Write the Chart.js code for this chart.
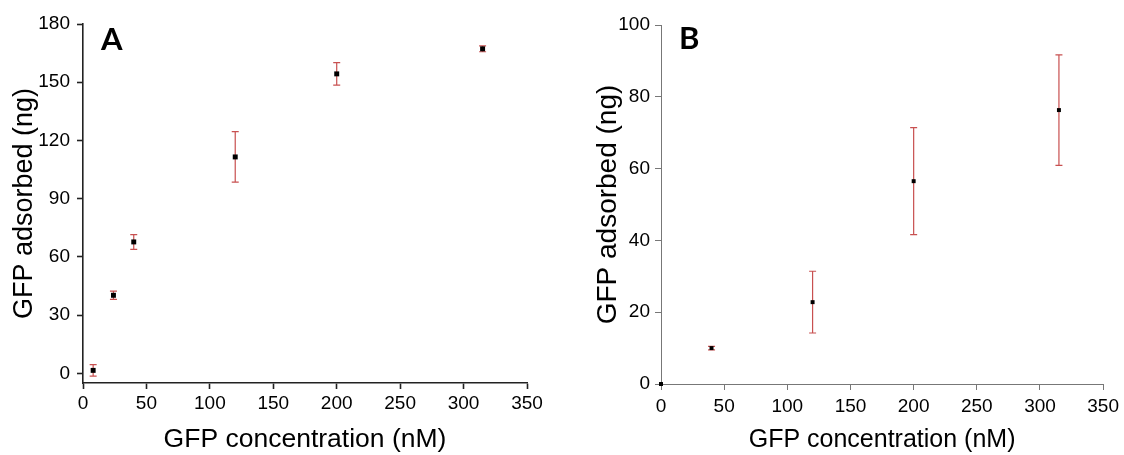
<!DOCTYPE html>
<html><head><meta charset="utf-8">
<script src="https://cdn.jsdelivr.net/npm/chart.js@4.4.1/dist/chart.umd.min.js"></script>
<style>
html,body{margin:0;padding:0;background:#fff;width:1124px;height:455px;overflow:hidden;}
.panel{position:absolute;top:0;width:562px;height:455px;}
.lbl{position:absolute;font-family:Lato,'Open Sans',sans-serif;font-weight:bold;font-size:31px;line-height:31px;color:#000;}
</style></head><body>
<div class="panel" style="left:0"><canvas id="cA" width="562" height="455"></canvas></div>
<div class="panel" style="left:562px"><canvas id="cB" width="562" height="455"></canvas></div>
<div class="lbl" style="left:101px;top:23px">A</div>
<div class="lbl" style="left:679px;top:22px">B</div>
<script>
// ---- data ----
const concA = [8, 24, 40, 120, 200, 315];
const adsA  = [1.5, 40.2, 67.7, 111.5, 154.3, 167.2];
const errA  = [3, 2.1, 3.8, 13, 5.8, 1.5];
const concB = [0, 40, 120, 200, 315];
const adsB  = [0, 10, 22.8, 56.5, 76.3];
const errB  = [0, 0.5, 8.6, 14.9, 15.4];
const xTicks  = [0, 50, 100, 150, 200, 250, 300, 350];
const yTicksA = [0, 30, 60, 90, 120, 150, 180];
const yTicksB = [0, 20, 40, 60, 80, 100];
const xTitle = 'GFP concentration (nM)';
const yTitle = 'GFP adsorbed (ng)';

const errorBars = {
  id: 'errorBars',
  beforeDatasetsDraw(chart, args, opts) {
    const ctx = chart.ctx, xs = chart.scales.x, ys = chart.scales.y;
    chart.data.datasets.forEach(ds => {
      if (!ds.errors) return;
      ctx.save();
      ctx.strokeStyle = opts.color;
      ctx.lineWidth = opts.width;
      ds.data.forEach((p, i) => {
        const e = ds.errors[i];
        if (!e) return;
        const x = xs.getPixelForValue(p.x);
        const y1 = ys.getPixelForValue(p.y + e), y2 = ys.getPixelForValue(p.y - e);
        ctx.beginPath();
        ctx.moveTo(x, y1); ctx.lineTo(x, y2);
        ctx.moveTo(x - opts.cap, y1); ctx.lineTo(x + opts.cap, y1);
        ctx.moveTo(x - opts.cap, y2); ctx.lineTo(x + opts.cap, y2);
        ctx.stroke();
      });
      ctx.restore();
    });
  }
};

function build(id, xs, ys, es, yTicks, st) {
  const font = 'Liberation Sans, Arial, sans-serif';
  return new Chart(document.getElementById(id), {
    type: 'scatter',
    data: { datasets: [{
      data: xs.map((x, i) => ({ x: x, y: ys[i] })),
      errors: es,
      pointStyle: 'rect', pointRadius: st.pr, pointHoverRadius: st.pr,
      backgroundColor: '#000', borderColor: '#000', borderWidth: 0,
      clip: false
    }]},
    plugins: [errorBars],
    options: {
      responsive: false, animation: false, devicePixelRatio: 1,
      layout: { padding: { top: st.padTop, right: st.padRight, left: 0, bottom: 0 } },
      plugins: { legend: { display: false }, tooltip: { enabled: false },
        errorBars: { color: 'rgb(200,80,80)', width: 1.2, cap: 3.5 } },
      scales: {
        x: {
          type: 'linear', min: xTicks[0], max: xTicks[xTicks.length - 1],
          afterBuildTicks: s => { s.ticks = xTicks.map(v => ({ value: v })); },
          afterFit: s => { s.height = st.xH; },
          ticks: { font: { family: font, size: 19 }, color: '#000', padding: st.xPad, maxRotation: 0, autoSkip: false },
          grid: { display: true, drawOnChartArea: false, drawTicks: true, tickLength: st.tl, tickColor: st.axisColor, tickWidth: st.aw },
          border: { display: true, color: st.axisColor, width: st.aw },
          title: { display: true, text: xTitle, color: '#000', font: { family: font, size: st.xtSize, lineHeight: 1 }, padding: { top: 0, bottom: 2 } }
        },
        y: {
          type: 'linear', min: st.ymin, max: yTicks[yTicks.length - 1],
          afterBuildTicks: s => { s.ticks = yTicks.map(v => ({ value: v })); },
          afterFit: s => { s.width = st.yW; },
          ticks: { font: { family: font, size: 19 }, color: '#000', padding: st.yPad, autoSkip: false },
          grid: { display: true, drawOnChartArea: false, drawTicks: true, tickLength: st.tl, tickColor: st.axisColor, tickWidth: st.aw },
          border: { display: true, color: st.axisColor, width: st.aw },
          title: { display: true, text: yTitle, color: '#000', font: { family: font, size: st.ytSize, lineHeight: 1 }, padding: { top: st.ytPad, bottom: 0 } }
        }
      }
    }
  });
}

build('cA', concA, adsA, errA, yTicksA, {
  pr: 3.5, padTop: 24, padRight: 35, xH: 72, yW: 83, xPad: 3, yPad: 7, tl: 6,
  axisColor: '#222', aw: 1.6, xtSize: 26.5, ytSize: 27, ytPad: 11, ymin: -5
});
build('cB', concB, adsB, errB, yTicksB, {
  pr: 2.8, padTop: 25, padRight: 17, xH: 71, yW: 99, xPad: 5, yPad: 5, tl: 6,
  axisColor: '#777', aw: 1, xtSize: 25, ytSize: 28, ytPad: 32, ymin: 0
});
</script>
</body></html>
